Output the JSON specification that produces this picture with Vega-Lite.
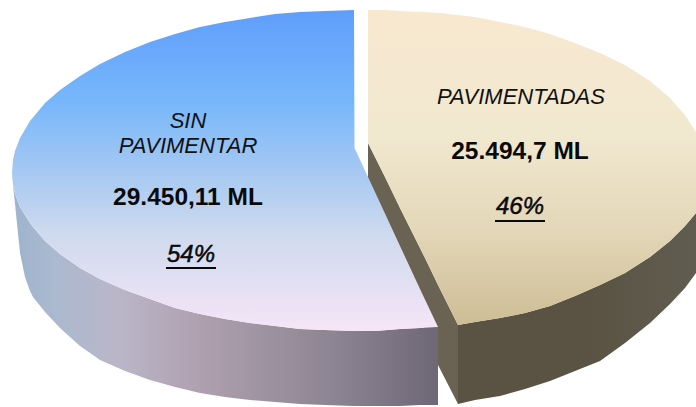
{
"$schema":"https://vega.github.io/schema/vega-lite/v6.json",
"width":696,"height":407,"padding":0,"autosize":{"type":"none"},
"background":"white",
"config":{"view":{"stroke":null}},
"datasets":{
"blueTop":[{"x":12,"y":173,"y2":173},{"x":13,"y":160,"y2":185},{"x":15,"y":151,"y2":194},{"x":20,"y":138,"y2":207},{"x":30,"y":121,"y2":223},{"x":45,"y":103,"y2":241},{"x":60,"y":90,"y2":254},{"x":80,"y":76,"y2":268},{"x":100,"y":64,"y2":279},{"x":125,"y":52,"y2":290},{"x":150,"y":42,"y2":299},{"x":175,"y":34,"y2":308},{"x":200,"y":27,"y2":314},{"x":225,"y":22,"y2":319},{"x":250,"y":18,"y2":323},{"x":275,"y":14,"y2":326},{"x":300,"y":12,"y2":329},{"x":325,"y":11,"y2":330},{"x":354,"y":10,"y2":331},{"x":354.5,"y":148,"y2":331},{"x":375,"y":192,"y2":331},{"x":400,"y":246,"y2":329},{"x":420,"y":289,"y2":328},{"x":438,"y":327,"y2":327}],
"blueSide":[{"x":12,"y":173,"y2":175},{"x":13,"y":185,"y2":185},{"x":15,"y":194,"y2":204},{"x":20,"y":207,"y2":253},{"x":25,"y":215,"y2":277},{"x":30,"y":223,"y2":291},{"x":33,"y":227,"y2":297},{"x":45,"y":241,"y2":312},{"x":60,"y":254,"y2":328},{"x":80,"y":268,"y2":346},{"x":100,"y":279,"y2":360},{"x":125,"y":290,"y2":371},{"x":150,"y":299,"y2":380},{"x":175,"y":308,"y2":387},{"x":200,"y":314,"y2":393},{"x":225,"y":319,"y2":397},{"x":250,"y":323,"y2":400},{"x":275,"y":326,"y2":402},{"x":300,"y":329,"y2":404},{"x":325,"y":330,"y2":405},{"x":354,"y":331,"y2":406},{"x":375,"y":331,"y2":406},{"x":400,"y":329,"y2":406},{"x":420,"y":328,"y2":405},{"x":438,"y":327,"y2":405}],
"beigeTop":[{"x":368,"y":10,"y2":143},{"x":385,"y":10,"y2":177},{"x":400,"y":11,"y2":208},{"x":425,"y":12,"y2":258},{"x":440,"y":13,"y2":289},{"x":458,"y":15,"y2":325},{"x":475,"y":17,"y2":322},{"x":500,"y":22,"y2":318},{"x":525,"y":27,"y2":313},{"x":550,"y":34,"y2":306},{"x":575,"y":43,"y2":296},{"x":600,"y":53,"y2":285},{"x":625,"y":65,"y2":273},{"x":650,"y":81,"y2":257},{"x":670,"y":98,"y2":241},{"x":685,"y":115,"y2":226},{"x":696,"y":132,"y2":213}],
"beigeSide":[{"x":458,"y":325,"y2":404},{"x":475,"y":322,"y2":400},{"x":500,"y":318,"y2":396},{"x":525,"y":313,"y2":389},{"x":550,"y":306,"y2":381},{"x":575,"y":296,"y2":371},{"x":600,"y":285,"y2":361},{"x":625,"y":273,"y2":343},{"x":650,"y":257,"y2":323},{"x":670,"y":241,"y2":304},{"x":685,"y":226,"y2":288},{"x":696,"y":213,"y2":273}],
"cut":[{"x":368,"y":143,"y2":180},{"x":385,"y":177,"y2":225},{"x":400,"y":208,"y2":264},{"x":425,"y":258,"y2":331},{"x":438,"y":285,"y2":365},{"x":458,"y":325,"y2":404}],
"names":[{"x":521,"y":97,"t":"PAVIMENTADAS"},{"x":188,"y":121,"t":"SIN"},{"x":188,"y":146,"t":"PAVIMENTAR"}],
"values":[{"x":520,"y":152,"t":"25.494,7 ML"},{"x":188,"y":198,"t":"29.450,11 ML"}],
"shares":[{"x":520,"y":207,"t":"46%","x1":495,"x2":545,"u":221},{"x":191,"y":255,"t":"54%","x1":166,"x2":216,"u":268}]
},
"data":{"name":"blueTop"},
"encoding":{},
"layer":[
{"data":{"name":"cut"},"mark":{"type":"area","color":"#6a6354"},
 "encoding":{"x":{"field":"x","type":"quantitative","scale":{"domain":[0,696]},"axis":null},"y":{"field":"y","type":"quantitative","scale":{"domain":[407,0]},"axis":null},"y2":{"field":"y2"}}},
{"data":{"name":"beigeSide"},"mark":{"type":"area","color":{"gradient":"linear","x1":0,"y1":0,"x2":1,"y2":0,"stops":[{"offset":0,"color":"#5a5343"},{"offset":0.5,"color":"#5a5243"},{"offset":1,"color":"#605d50"}]}},
 "encoding":{"x":{"field":"x","type":"quantitative","scale":{"domain":[0,696]},"axis":null},"y":{"field":"y","type":"quantitative","scale":{"domain":[407,0]},"axis":null},"y2":{"field":"y2"}}},
{"data":{"name":"beigeTop"},"mark":{"type":"area","color":{"gradient":"linear","x1":0,"y1":0,"x2":0,"y2":1,"stops":[{"offset":0,"color":"#f9e8d0"},{"offset":0.4,"color":"#f1e8d0"},{"offset":0.7,"color":"#e3d7b8"},{"offset":1,"color":"#cdbd95"}]}},
 "encoding":{"x":{"field":"x","type":"quantitative","scale":{"domain":[0,696]},"axis":null},"y":{"field":"y","type":"quantitative","scale":{"domain":[407,0]},"axis":null},"y2":{"field":"y2"}}},
{"data":{"name":"blueSide"},"mark":{"type":"area","color":{"gradient":"linear","x1":0,"y1":0,"x2":1,"y2":0,"stops":[{"offset":0,"color":"#9db4cd"},{"offset":0.1,"color":"#abb9cf"},{"offset":0.25,"color":"#bab6c8"},{"offset":0.45,"color":"#ae9fae"},{"offset":0.75,"color":"#8d8593"},{"offset":1,"color":"#6e6775"}]}},
 "encoding":{"x":{"field":"x","type":"quantitative","scale":{"domain":[0,696]},"axis":null},"y":{"field":"y","type":"quantitative","scale":{"domain":[407,0]},"axis":null},"y2":{"field":"y2"}}},
{"data":{"name":"blueTop"},"mark":{"type":"area","color":{"gradient":"linear","x1":0,"y1":0,"x2":0,"y2":1,"stops":[{"offset":0,"color":"#5e9efb"},{"offset":0.3,"color":"#7ab8fb"},{"offset":0.5,"color":"#a5c8f2"},{"offset":0.7,"color":"#cfdaee"},{"offset":1,"color":"#f6e5f7"}]}},
 "encoding":{"x":{"field":"x","type":"quantitative","scale":{"domain":[0,696]},"axis":null},"y":{"field":"y","type":"quantitative","scale":{"domain":[407,0]},"axis":null},"y2":{"field":"y2"}}},
{"data":{"name":"names"},"mark":{"type":"text","font":"Liberation Sans","fontStyle":"italic","fontSize":22,"color":"#111111"},
 "encoding":{"x":{"field":"x","type":"quantitative","scale":{"domain":[0,696]},"axis":null},"y":{"field":"y","type":"quantitative","scale":{"domain":[407,0]},"axis":null},"text":{"field":"t"}}},
{"data":{"name":"values"},"mark":{"type":"text","font":"Liberation Sans","fontWeight":"bold","fontSize":24.5,"color":"#0a0a0a"},
 "encoding":{"x":{"field":"x","type":"quantitative","scale":{"domain":[0,696]},"axis":null},"y":{"field":"y","type":"quantitative","scale":{"domain":[407,0]},"axis":null},"text":{"field":"t"}}},
{"data":{"name":"shares"},"mark":{"type":"text","font":"Liberation Sans","fontStyle":"italic","fontSize":24,"color":"#0a0a0a","stroke":"#0a0a0a","strokeWidth":0.5},
 "encoding":{"x":{"field":"x","type":"quantitative","scale":{"domain":[0,696]},"axis":null},"y":{"field":"y","type":"quantitative","scale":{"domain":[407,0]},"axis":null},"text":{"field":"t"}}},
{"data":{"name":"shares"},"mark":{"type":"rule","strokeWidth":2,"color":"#0a0a0a"},
 "encoding":{"x":{"field":"x1","type":"quantitative","scale":{"domain":[0,696]},"axis":null},"x2":{"field":"x2"},"y":{"field":"u","type":"quantitative","scale":{"domain":[407,0]},"axis":null}}}
]
}
